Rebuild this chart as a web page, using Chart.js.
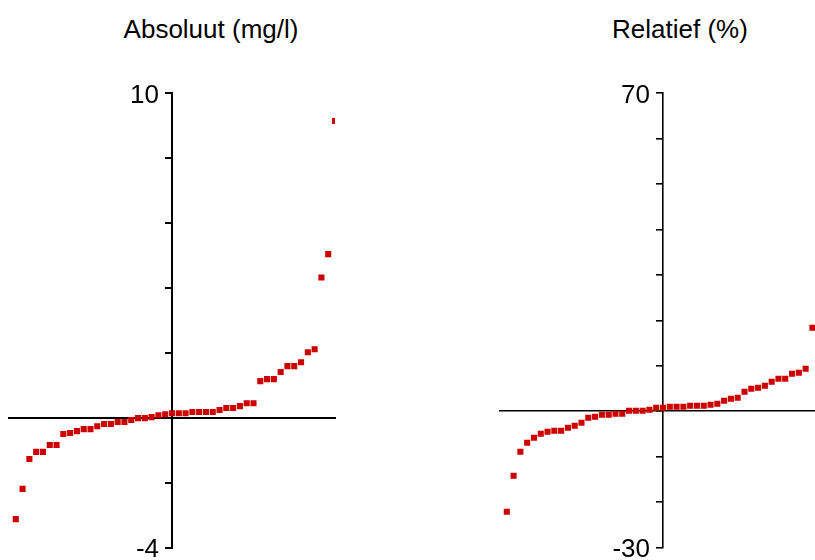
<!DOCTYPE html>
<html>
<head>
<meta charset="utf-8">
<script src="https://cdn.jsdelivr.net/npm/chart.js@4.4.1/dist/chart.umd.min.js"></script>
<style>
  html, body { margin: 0; padding: 0; width: 815px; height: 560px; overflow: hidden; background: #fff; }
  .wrap { position: absolute; top: 0; width: 345px; height: 620px; }
  .title { position: absolute; top: 16px; width: 300px; text-align: center;
           font-family: "Liberation Sans", Arial, sans-serif; font-size: 26px; line-height: 26px; color: #000; }
</style>
</head>
<body>
<div class="title" style="left:61px">Absoluut (mg/l)</div>
<div class="title" style="left:530px">Relatief (%)</div>
<div class="wrap" style="left:0"><canvas id="c1" width="345" height="620"></canvas></div>
<div class="wrap" style="left:491px"><canvas id="c2" width="345" height="620"></canvas></div>
<script>
// rank positions of the sorted observations
const ranks = [-23, -22, -21, -20, -19, -18, -17, -16, -15, -14, -13, -12, -11, -10, -9, -8, -7, -6, -5, -4, -3, -2, -1, 0,
               1, 2, 3, 4, 5, 6, 7, 8, 9, 10, 11, 12, 13, 14, 15, 16, 17, 18, 19, 20, 21, 22, 23, 24];
// absolute differences (mg/l)
const absValues = [-3.12, -2.19, -1.27, -1.05, -1.05, -0.84, -0.84, -0.50, -0.47, -0.41,
                   -0.35, -0.35, -0.26, -0.19, -0.19, -0.13, -0.13, -0.07, -0.01, -0.01,
                   0.02, 0.08, 0.11, 0.14, 0.14, 0.14, 0.18, 0.18, 0.18, 0.18,
                   0.24, 0.30, 0.30, 0.36, 0.45, 0.45, 1.13, 1.19, 1.19, 1.41,
                   1.59, 1.59, 1.71, 2.02, 2.11, 4.32, 5.04, 9.14];
// relative differences (%) - visible part
const relValues = [-22.08, -14.16, -8.88, -6.91, -5.81, -4.93, -4.49, -4.27, -4.27, -3.61,
                   -3.17, -2.51, -1.41, -1.19, -0.75, -0.75, -0.53, -0.53, 0.13, 0.13,
                   0.13, 0.35, 0.79, 0.79, 1.01, 1.01, 1.01, 1.23, 1.23, 1.23,
                   1.45, 1.67, 2.33, 2.77, 2.99, 4.31, 4.97, 5.19, 5.63, 6.51,
                   7.17, 7.17, 8.27, 8.49, 9.37, 18.39];
const rankRange = [-24, 24];
const absAxis = [-4, 10, 2];      // min, max, step
const relAxis = [-30, 70, 10];
const absTickLabels = [10, -4];
const relTickLabels = [70, -30];

function makeChart(id, values, axis, tickLabels, lw) {
  const pts = values.map((v, i) => ({ x: ranks[i], y: v }));
  return new Chart(document.getElementById(id), {
    type: 'scatter',
    data: { datasets: [{
      data: pts,
      pointStyle: 'rect',
      pointRadius: 4.3,
      pointBorderWidth: 0,
      pointBackgroundColor: '#cc0000',
      pointBorderColor: '#cc0000',
      clip: 0
    }]},
    options: {
      responsive: false,
      animation: false,
      events: [],
      layout: { padding: { left: 9, right: 10, top: 93, bottom: 72.3 } },
      plugins: { legend: { display: false }, tooltip: { enabled: false }, title: { display: false } },
      scales: {
        x: {
          type: 'linear',
          min: rankRange[0], max: rankRange[1],
          position: { y: 0 },
          grid: { display: false },
          ticks: { display: false },
          border: { display: true, color: '#000', width: lw }
        },
        y: {
          type: 'linear',
          min: axis[0], max: axis[1],
          position: { x: 0 },
          grid: { display: true, drawOnChartArea: false, drawTicks: true, tickLength: 6, color: '#000', lineWidth: lw },
          border: { display: true, color: '#000', width: lw },
          ticks: {
            stepSize: axis[2],
            labelOffset: 2.5,
            color: '#000',
            font: { family: '"Liberation Sans", Arial, sans-serif', size: 26 },
            // trailing en space keeps the label clear of the tick mark
            callback: (v) => tickLabels.includes(v) ? String(v) + '\u2002' : ''
          }
        }
      }
    }
  });
}
makeChart('c1', absValues, absAxis, absTickLabels, 2);
makeChart('c2', relValues, relAxis, relTickLabels, 1.6);
</script>
</body>
</html>
